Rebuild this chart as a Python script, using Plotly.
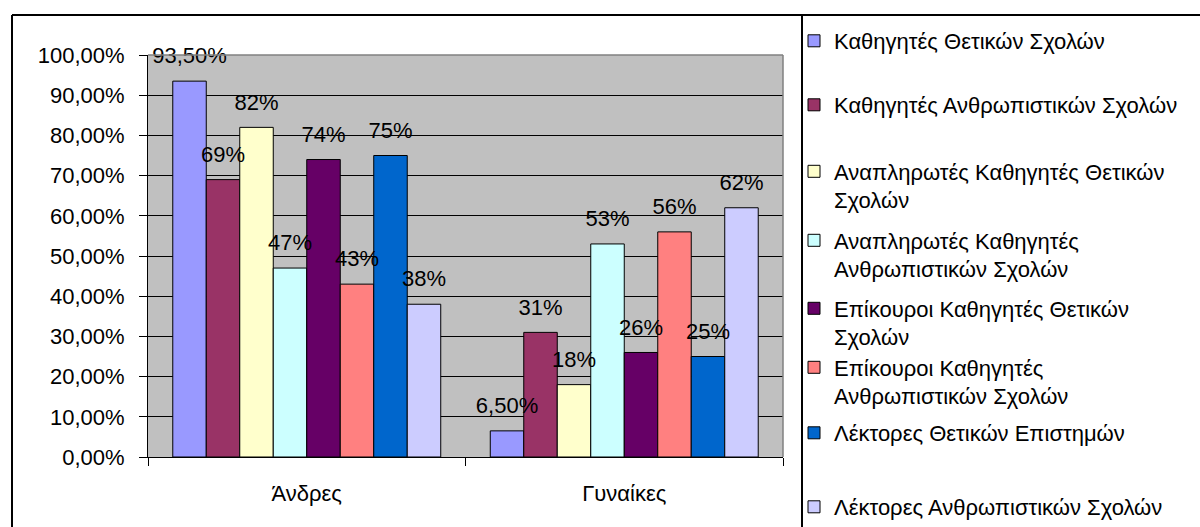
import plotly.graph_objects as go

# Faculty share by gender (percent), one series per academic rank / school group
categories = ["Άνδρες", "Γυναίκες"]
series_names = [
    "Καθηγητές Θετικών Σχολών",
    "Καθηγητές Ανθρωπιστικών Σχολών",
    "Αναπληρωτές Καθηγητές Θετικών<br>Σχολών",
    "Αναπληρωτές Καθηγητές<br>Ανθρωπιστικών Σχολών",
    "Επίκουροι Καθηγητές Θετικών<br>Σχολών",
    "Επίκουροι Καθηγητές<br>Ανθρωπιστικών Σχολών",
    "Λέκτορες Θετικών Επιστημών",
    "Λέκτορες Ανθρωπιστικών Σχολών",
]
men_values = [93.5, 69, 82, 47, 74, 43, 75, 38]
women_values = [6.5, 31, 18, 53, 26, 56, 25, 62]
y_ticks = [0.0, 0.1, 0.2, 0.3, 0.4, 0.5, 0.6, 0.7, 0.8, 0.9, 1.0]

colors = ["#9999FF", "#993366", "#FFFFCC", "#CCFFFF",
          "#660066", "#FF8080", "#0066CC", "#CCCCFF"]

FONT = "Liberation Sans, Arial, sans-serif"
FS = 22

# plot-area geometry in pixels
W, H = 1200, 527
L, R, T, B = 148, 417, 55, 70
PW, PH = W - L - R, H - T - B


def px_x(x):
    return (x - L) / PW


def px_y(y):
    return (H - B - y) / PH


def pct_label(v):
    if float(v).is_integer():
        return f"{v:.0f}%"
    return f"{v:.2f}%".replace(".", ",")


# vertical centre of each legend entry's text block (pixels)
legend_centres = [41, 105, 186, 255, 323, 382, 433, 507]

fig = go.Figure()
for i, name in enumerate(series_names):
    vals = [men_values[i] / 100, women_values[i] / 100]
    lname = "legend" if i == 0 else f"legend{i + 1}"
    fig.add_trace(go.Bar(
        x=categories, y=vals, name=name,
        marker=dict(color=colors[i], line=dict(color="black", width=1)),
        offsetgroup=str(i), legend=lname,
        hoverinfo="skip",
    ))
    fig.add_trace(go.Scatter(
        x=categories, y=vals, mode="markers+text",
        text=[pct_label(men_values[i]), pct_label(women_values[i])],
        textposition="top center",
        textfont=dict(family=FONT, size=FS, color="black"),
        marker=dict(size=18, color="rgba(0,0,0,0)"),
        offsetgroup=str(i), showlegend=False, cliponaxis=False,
        hoverinfo="skip",
    ))

layout = dict(
    width=W, height=H,
    margin=dict(l=L, r=R, t=T, b=B, autoexpand=False),
    paper_bgcolor="white", plot_bgcolor="#C0C0C0",
    barmode="group", bargap=0.156, bargroupgap=0,
    scattermode="group", scattergap=0.156,
    separators=",.",
    font=dict(family=FONT, size=FS, color="black"),
    xaxis=dict(
        type="category", tickson="boundaries", ticks="outside", ticklen=8,
        tickcolor="black", showline=True, linecolor="black", linewidth=1,
        showgrid=False, tickfont=dict(family=FONT, size=FS, color="black"),
        ticklabelstandoff=17,
    ),
    yaxis=dict(
        range=[0, 1], tickvals=y_ticks, tickformat=".2%",
        ticks="outside", ticklen=8, tickcolor="black",
        showline=True, linecolor="black", linewidth=1,
        showgrid=True, gridcolor="black", gridwidth=1, zeroline=False,
        tickfont=dict(family=FONT, size=FS, color="black"),
        ticklabelstandoff=10,
    ),
    shapes=[
        # chart frame (left and top edges)
        dict(type="line", xref="paper", yref="paper",
             x0=px_x(12), x1=px_x(12), y0=px_y(15), y1=px_y(540),
             line=dict(color="black", width=2)),
        dict(type="line", xref="paper", yref="paper",
             x0=px_x(12), x1=px_x(1210), y0=px_y(15), y1=px_y(15),
             line=dict(color="black", width=2)),
        # legend box left edge
        dict(type="line", xref="paper", yref="paper",
             x0=px_x(802), x1=px_x(802), y0=px_y(15), y1=px_y(540),
             line=dict(color="black", width=2)),
        # plot area border (top and right)
        dict(type="line", xref="paper", yref="paper",
             x0=0, x1=1, y0=1, y1=1, layer="above",
             line=dict(color="#808080", width=1.5)),
        dict(type="line", xref="paper", yref="paper",
             x0=1, x1=1, y0=0, y1=1, layer="above",
             line=dict(color="#808080", width=1.5)),
    ],
)

for i, yc in enumerate(legend_centres):
    key = "legend" if i == 0 else f"legend{i + 1}"
    layout[key] = dict(
        x=px_x(794), xanchor="left", y=px_y(yc), yanchor="middle",
        bgcolor="rgba(0,0,0,0)", borderwidth=0, valign="top",
        font=dict(family=FONT, size=FS, color="black"),
        itemclick=False, itemdoubleclick=False,
    )

fig.update_layout(**layout)
fig.write_html("out.html")
